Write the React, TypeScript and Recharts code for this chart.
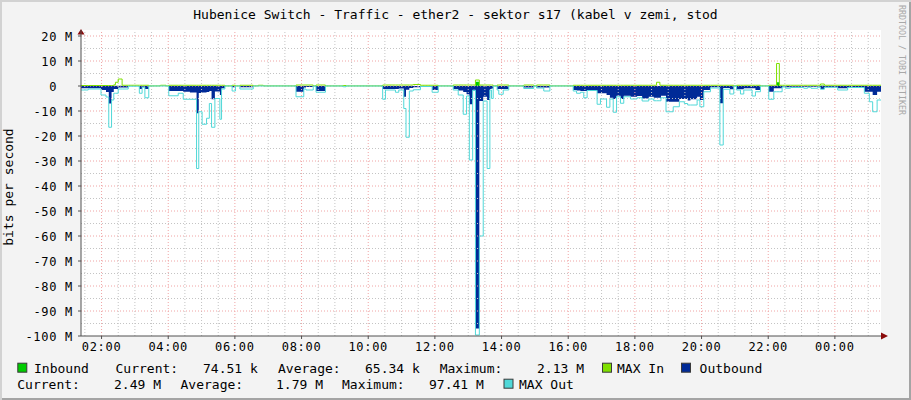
import React from 'react';
import { ComposedChart, Area, Line, XAxis, YAxis, CartesianGrid, ReferenceLine } from 'recharts';

// ---- data (time in minutes from 00:00 of the first day; values in Mbit/s) ----
const MINUTES = [
  83, 96, 119, 128, 133, 138, 142, 145, 150, 157,
  168, 188, 193, 198, 205, 226, 236, 241, 258, 267,
  279, 291, 295, 301, 309, 314, 318, 324, 333, 336,
  342, 355, 361, 369, 393, 402, 411, 470, 484, 488,
  501, 506, 523, 555, 560, 626, 631, 649, 655, 664,
  668, 674, 681, 694, 715, 726, 753, 762, 771, 777,
  782, 788, 793, 800, 807, 814, 819, 822, 825, 832,
  835, 843, 853, 880, 898, 903, 916, 927, 969, 975,
  982, 988, 994, 1012, 1018, 1029, 1035, 1041, 1047, 1054,
  1060, 1072, 1084, 1093, 1105, 1114, 1119, 1125, 1127, 1136,
  1149, 1160, 1169, 1175, 1180, 1192, 1197, 1204, 1216, 1233,
  1239, 1251, 1258, 1263, 1270, 1276, 1291, 1297, 1306, 1321,
  1330, 1335, 1340, 1345, 1351, 1360, 1384, 1391, 1397, 1409,
  1414, 1421, 1445, 1463, 1493, 1502, 1508, 1516, 1523,
];

const OUTBOUND = [
  -0.9, -0.9, -1.6, -2.4, -7.0, -2.4, -1.2, -1.2, -0.6, -0.6,
  0, -1.2, -0.3, -1.2, 0, 0, 0, -2.0, -2.0, -2.3,
  -2.6, -10.9, -2.8, -2.6, -2.4, -2.0, -5.3, -2.2, -3.6, -0.9,
  0, -0.5, 0, -0.5, 0, 0, 0, -2.3, -0.6, -0.4,
  0, -2.0, 0, 0, 0, -1.2, -1.2, -1.2, -1.0, -4.3,
  -1.5, -0.8, -0.5, -0.1, -1.6, 0, -1.2, -1.8, -2.4, -3.3,
  -7.3, -1.5, -97, -6, -4.3, -5.6, -1.2, -1.0, 0, -1.2,
  -1.2, -1.2, 0, -0.6, 0, -0.6, -0.6, 0, -1.6, -1.8,
  -2.0, -2.0, -1.6, -2.9, -2.9, -3.6, -4.7, -5.2, -3.9, -5.2,
  -3.9, -4.3, -4.0, -5.0, -4.3, -4.7, -4.7, -4.7, -3.9, -6.3,
  -6.3, -5.2, -5.2, -5.8, -5.3, -4.3, -5.6, -1.6, -0.5, -6.9,
  -0.8, -1.3, 0, -1.3, -1.3, -0.9, -0.9, -1.6, 0, -2.3,
  -0.9, -0.9, -0.9, -0.3, -0.5, -0.3, -0.3, -0.3, -0.3, -0.3,
  -1.2, -0.5, -0.9, -0.5, -2.3, -2.3, -3.6, -2.3, -2.3,
];

const MAX_OUT = [
  -1.6, -1.2, -3.6, -4.4, -16.5, -5.6, -2.9, -2.9, -1.2, -1.2,
  -0.1, -2.9, -0.5, -4.7, 0, 0, 0, -3.9, -2.9, -5.3,
  -5.3, -33, -10.3, -15.3, -12.9, -7, -16.5, -5.0, -13.3, -1.2,
  0, -2.0, 0, -1.2, 0, 0, 0, -4.3, -1.2, -1.6,
  0, -2.5, 0, -0.3, 0, -5.3, -1.6, -2.5, -1.6, -9,
  -20.5, -2.0, -1.5, -0.2, -2.5, 0, -1.6, -3.6, -11.3, -4.0,
  -29.6, -1.8, -99.6, -60, -6, -33, -1.6, -5.0, 0, -1.6,
  -3.3, -1.6, 0, -1.0, 0, -0.8, -2.0, 0, -2.0, -2.9,
  -2.5, -4.7, -1.8, -7.3, -5.2, -8.5, -5.2, -10.5, -4.3, -6.9,
  -4.3, -5.2, -4.7, -6.0, -5.2, -5.9, -5.9, -5.9, -4.7, -10.3,
  -8.3, -6.3, -7.0, -7.6, -7.6, -5.6, -8.3, -2.3, -0.8, -23.6,
  -1.3, -3.2, 0, -1.6, -3.2, -1.6, -4.0, -2.3, 0, -5.3,
  -2.3, -2.3, -2.3, -0.4, -0.9, -0.6, -0.9, -0.5, -0.9, -0.5,
  -1.3, -0.5, -1.6, -0.6, -2.9, -6.3, -10.3, -5.6, -5.6,
];

const INBOUND = [
  0.05, 0.05, 0.05, 0.05, 0.05, 0.05, 0.1, 0.1, 0.1, 0.05,
  0.02, 0.05, 0.05, 0.05, 0.02, 0.02, 0.02, 0.05, 0.05, 0.05,
  0.05, 0.05, 0.05, 0.05, 0.05, 0.05, 0.05, 0.05, 0.05, 0.05,
  0.02, 0.05, 0.02, 0.05, 0.02, 0.02, 0.02, 0.05, 0.05, 0.05,
  0.02, 0.05, 0.02, 0.02, 0.02, 0.05, 0.05, 0.05, 0.05, 0.05,
  0.05, 0.05, 0.05, 0.05, 0.05, 0.02, 0.05, 0.05, 0.05, 0.05,
  0.05, 0.05, 1.7, 0.1, 0.05, 0.05, 0.05, 0.05, 0.02, 0.05,
  0.05, 0.05, 0.02, 0.05, 0.02, 0.05, 0.05, 0.02, 0.05, 0.05,
  0.05, 0.05, 0.05, 0.05, 0.05, 0.05, 0.05, 0.05, 0.05, 0.05,
  0.05, 0.05, 0.05, 0.05, 0.05, 0.05, 0.05, 0.05, 0.05, 0.05,
  0.05, 0.05, 0.05, 0.05, 0.05, 0.05, 0.05, 0.05, 0.05, 0.05,
  0.05, 0.05, 0.02, 0.05, 0.05, 0.05, 0.05, 0.05, 0.02, 0.05,
  0.05, 1.5, 0.05, 0.05, 0.05, 0.05, 0.05, 0.05, 0.05, 0.05,
  0.2, 0.05, 0.05, 0.05, 0.05, 0.05, 0.05, 0.05, 0.05,
];

const MAX_IN = [
  0.2, 0.2, 0.2, 0.2, 0.2, 0.2, 0.5, 1.5, 2.8, 0.3,
  0.3, 0.3, 0.3, 0.3, 0.05, 0.3, 0.05, 0.3, 0.3, 0.3,
  0.3, 0.3, 0.3, 0.3, 0.3, 0.3, 0.3, 0.3, 0.3, 0.3,
  0.05, 0.3, 0.05, 0.3, 0.05, 0.3, 0.05, 0.4, 0.4, 0.4,
  0.05, 0.4, 0.05, 0.2, 0.05, 0.4, 0.4, 0.4, 0.4, 0.4,
  0.4, 0.4, 0.6, 0.3, 0.3, 0.05, 0.4, 0.4, 0.4, 0.4,
  0.4, 0.4, 2.4, 0.4, 0.4, 0.4, 0.4, 0.4, 0.05, 0.4,
  0.4, 0.4, 0.05, 0.4, 0.05, 0.4, 0.4, 0.05, 0.3, 0.3,
  0.3, 0.3, 0.3, 0.3, 0.3, 0.3, 0.3, 0.3, 0.3, 0.3,
  0.3, 0.3, 0.3, 0.3, 0.3, 0.3, 1.5, 0.3, 0.3, 0.3,
  0.3, 0.3, 0.3, 0.3, 0.3, 0.3, 0.3, 0.3, 0.3, 0.3,
  0.3, 0.3, 0.05, 0.3, 0.3, 0.3, 0.3, 0.3, 0.05, 0.3,
  0.3, 9.0, 0.3, 0.3, 0.3, 0.3, 0.3, 0.3, 0.3, 0.3,
  0.8, 0.3, 0.3, 0.3, 0.3, 0.3, 0.3, 0.3, 0.3,
];

const X_DOMAIN = [83, 1523];
const X_TICKS = [120, 240, 360, 480, 600, 720, 840, 960, 1080, 1200, 1320, 1440];
const Y_DOMAIN = [-100, 22.4];
const Y_TICKS = [-100, -90, -80, -70, -60, -50, -40, -30, -20, -10, 0, 10, 20];

const TITLE = 'Hubenice Switch - Traffic - ether2 - sektor s17 (kabel v zemi, stod';
const Y_LABEL = 'bits per second';
const WATERMARK = 'RRDTOOL / TOBI OETIKER';

const C_IN = '#00cc00';
const C_MAXIN = '#7fe000';
const C_OUT = '#002a97';
const C_MAXOUT = '#50d8d8';

const LEGEND_TEXT = [
  { t: 'Inbound', x: 34, y: 373 },
  { t: 'Current:', x: 115.5, y: 373 },
  { t: '74.51 k', x: 203, y: 373 },
  { t: 'Average:', x: 278, y: 373 },
  { t: '65.34 k', x: 365, y: 373 },
  { t: 'Maximum:', x: 439.7, y: 373 },
  { t: '2.13 M', x: 537, y: 373 },
  { t: 'MAX In', x: 617, y: 373 },
  { t: 'Outbound', x: 699.6, y: 373 },
  { t: 'Current:', x: 17.3, y: 389.3 },
  { t: '2.49 M', x: 114, y: 389.3 },
  { t: 'Average:', x: 180.5, y: 389.3 },
  { t: '1.79 M', x: 276, y: 389.3 },
  { t: 'Maximum:', x: 342, y: 389.3 },
  { t: '97.41 M', x: 429, y: 389.3 },
  { t: 'MAX Out', x: 519, y: 389.3 },
];
const LEGEND_BOXES = [
  { c: C_IN, x: 17.3, y: 362.7 },
  { c: C_MAXIN, x: 602, y: 362.7 },
  { c: C_OUT, x: 681, y: 362.7 },
  { c: C_MAXOUT, x: 503.5, y: 378.7 },
];

const data = MINUTES.map((m, i) => ({
  m,
  out: OUTBOUND[i],
  maxOut: MAX_OUT[i],
  inb: INBOUND[i],
  maxIn: MAX_IN[i],
}));

const MINOR_X: number[] = [];
for (let t = 90; t <= 1500; t += 30) if (t % 120 !== 0) MINOR_X.push(t);
const MINOR_Y: number[] = [];
for (let v = -95; v <= 15; v += 10) MINOR_Y.push(v);
const MAJOR_Y = Y_TICKS.filter((v) => v > -100);

const FONT = "'DejaVu Sans Mono', monospace";
const GRID_MINOR = '#c4c4c4';
const GRID_MAJOR = '#f0a4a4';
const AXIS = '#505050';
const ARROW = '#8a0a0a';

const fmtTime = (m: number) => `${String(Math.round(m / 60) % 24).padStart(2, '0')}:00`;
const fmtVal = (v: number) => (v === 0 ? '0\u00a0\u00a0' : `${v}\u00a0M`);

const XTick = (p: any) => (
  <text x={p.x} y={p.y} dy={8.6} textAnchor="middle" fontFamily={FONT} fontSize={12} fill="#000" style={{ letterSpacing: '0.7px' }}>
    {fmtTime(p.payload.value)}
  </text>
);
const YTick = (p: any) => (
  <text x={p.x} y={p.y} dy={4.6} textAnchor="end" fontFamily={FONT} fontSize={12} fill="#000" style={{ letterSpacing: '0.7px' }}>
    {fmtVal(p.payload.value)}
  </text>
);
const UpArrow = (p: any) => {
  const { x, y } = p.viewBox;
  return <polygon points={`${x - 3.5},${y + 4.5} ${x + 3.5},${y + 4.5} ${x},${y - 1}`} fill={ARROW} />;
};
const RightArrow = (p: any) => {
  const { x, y, height } = p.viewBox;
  const b = y + height;
  return <polygon points={`${x},${b - 3.5} ${x},${b + 3.5} ${x + 7},${b}`} fill={ARROW} />;
};

export default function App() {
  return (
    <div
      style={{
        position: 'absolute',
        left: 0,
        top: 0,
        width: 911,
        height: 400,
        background: '#f3f3f3',
        boxShadow: 'inset 2px 2px 0 #d2d2d2, inset -2px -2px 0 #a4a4a4',
        overflow: 'hidden',
      }}
    >
      <div style={{ position: 'absolute', left: 0, top: 0 }}>
        <ComposedChart width={911} height={400} data={data} margin={{ top: 30, right: 30, bottom: 34, left: 8 }}>
          <CartesianGrid horizontal={false} vertical={false} fill="#ffffff" />
          {MINOR_X.map((t) => (
            <ReferenceLine key={'mx' + t} x={t} stroke={GRID_MINOR} strokeDasharray="1 2" />
          ))}
          {MINOR_Y.map((v) => (
            <ReferenceLine key={'my' + v} y={v} stroke={GRID_MINOR} strokeDasharray="1 2" />
          ))}
          {X_TICKS.map((t) => (
            <ReferenceLine key={'Mx' + t} x={t} stroke={GRID_MAJOR} strokeDasharray="1 2" />
          ))}
          {MAJOR_Y.map((v) => (
            <ReferenceLine key={'My' + v} y={v} stroke={GRID_MAJOR} strokeDasharray="1 2" />
          ))}
          <XAxis
            type="number"
            dataKey="m"
            domain={X_DOMAIN}
            ticks={X_TICKS}
            interval={0}
            allowDataOverflow
            height={30}
            tickSize={3}
            tickMargin={3}
            tick={XTick}
            axisLine={{ stroke: AXIS }}
            tickLine={{ stroke: AXIS }}
          />
          <YAxis
            type="number"
            domain={Y_DOMAIN}
            ticks={Y_TICKS}
            interval={0}
            allowDataOverflow
            width={73}
            tickSize={3}
            tickMargin={5}
            tick={YTick}
            axisLine={{ stroke: AXIS }}
            tickLine={{ stroke: AXIS }}
          />
          <Area dataKey="inb" type="stepAfter" baseValue={0} fill={C_IN} fillOpacity={1} stroke="none" isAnimationActive={false} />
          <Area dataKey="out" type="stepAfter" baseValue={0} fill={C_OUT} fillOpacity={1} stroke="none" isAnimationActive={false} />
          <Line dataKey="maxIn" type="stepAfter" stroke={C_MAXIN} strokeWidth={1} dot={false} activeDot={false} isAnimationActive={false} />
          <Line dataKey="maxOut" type="stepAfter" stroke={C_MAXOUT} strokeWidth={1} dot={false} activeDot={false} isAnimationActive={false} />
          <ReferenceLine y={Y_DOMAIN[1]} stroke="none" label={UpArrow} />
          <ReferenceLine x={X_DOMAIN[1]} stroke="none" label={RightArrow} />
        </ComposedChart>
      </div>
      <svg width={911} height={400} style={{ position: 'absolute', left: 0, top: 0, pointerEvents: 'none' }}>
        <text x={455.5} y={19} textAnchor="middle" fontFamily={FONT} fontSize={13} fill="#000">
          {TITLE}
        </text>
        <text transform="translate(12.5,187) rotate(-90)" textAnchor="middle" fontFamily={FONT} fontSize={13} fill="#000">
          {Y_LABEL}
        </text>
        <text transform="translate(899,5) rotate(90)" fontFamily={FONT} fontSize={8.3} fill="#a8a8a8">
          {WATERMARK}
        </text>
        {LEGEND_BOXES.map((b, i) => (
          <rect key={'b' + i} x={b.x + 0.5} y={b.y + 0.5} width={9} height={9} fill={b.c} stroke="#3a3a3a" strokeWidth={1} />
        ))}
        {LEGEND_TEXT.map((l, i) => (
          <text key={'l' + i} x={l.x} y={l.y} fontFamily={FONT} fontSize={13} fill="#000" style={{ whiteSpace: 'pre' }}>
            {l.t}
          </text>
        ))}
      </svg>
    </div>
  );
}
